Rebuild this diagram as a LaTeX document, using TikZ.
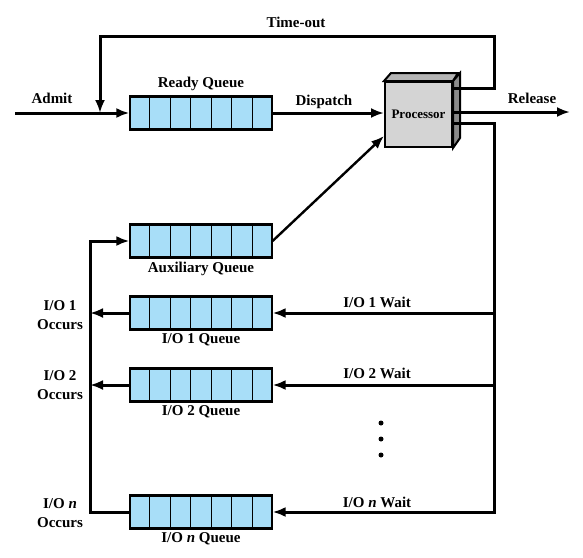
\documentclass[tikz,border=0pt]{standalone}
\usepackage{fontspec}
\setmainfont{Liberation Serif}
\usetikzlibrary{arrows.meta,positioning,calc}

\definecolor{qblue}{RGB}{168,222,248}
\definecolor{pfront}{RGB}{212,212,212}
\definecolor{ptop}{RGB}{180,180,180}
\definecolor{pside}{RGB}{138,138,138}

\begin{document}
\begin{tikzpicture}[x=1pt,y=-1pt,
  queue/.style={rectangle,draw,fill=qblue,line width=1.2pt,minimum width=142pt,minimum height=32pt,inner sep=0pt},
  lbl/.style={font=\fontsize{15}{19}\selectfont\bfseries,inner sep=1pt},
  flow/.style={line width=3pt,-{Latex[length=13pt,width=10pt]}},
  wire/.style={line width=3pt}]
\useasboundingbox (0,0) rectangle (583,557);

% queues
\node[queue] (rq) at (201,113) {};
\node[queue] (aq) at (201,241) {};
\node[queue] (q1) at (201,313) {};
\node[queue] (q2) at (201,385) {};
\node[queue] (qn) at (201,512) {};
\foreach \q in {rq,aq,q1,q2,qn}{
  \foreach \i in {1,...,6}
    \draw[line width=1.1pt] ($(\q.north west)!\i/7!(\q.north east)$) -- ($(\q.south west)!\i/7!(\q.south east)$);
  \draw[line width=3.4pt] (\q.north west) -- (\q.north east) (\q.south west) -- (\q.south east);
}

% processor
\node[draw,fill=pfront,line width=2pt,minimum width=67pt,minimum height=65pt,inner sep=0pt,
  font=\fontsize{13}{14}\selectfont\bfseries] (proc) at (418.5,114.5) {Processor};
\draw[line width=2pt,fill=ptop] (proc.north west) -- ++(7,-8) -- ++(67,0) -- (proc.north east) -- cycle;
\draw[line width=2pt,fill=pside] (proc.north east) -- ++(7,-8) -- ++(0,65) -- (proc.south east) -- cycle;

\coordinate (adm) at (15,113);
\coordinate (rel) at (570,112);
\coordinate (tr) at (494,36);
\coordinate (tl) at (100,36);
\coordinate (rb) at (494,512);
\coordinate (lb) at (90,512);

% connectors
\draw[flow] (adm) -- (rq.west);
\draw[flow] (rq.east) -- (rq.east -| proc.west);
\draw[flow] ([yshift=26pt]proc.east) -| (tr) -| (tl |- rq.west);
\draw[flow] (proc.east |- rel) -- (rel);
\draw[flow] ([yshift=-8.5pt]proc.east) -| (rb) -- (qn.east);
\draw[flow] (rb |- q1.east) -- (q1.east);
\draw[flow] (rb |- q2.east) -- (q2.east);
\draw[line width=2.4pt,-{Latex[length=13pt,width=10pt]}] (aq.east) -- ([yshift=12pt]proc.south west);
\draw[flow] (qn.west) -- (lb) |- (aq.west);
\draw[flow] (q1.west) -- (q1.west -| lb);
\draw[flow] (q2.west) -- (q2.west -| lb);

% labels
\node[lbl] (tolbl) at (296,22) {Time-out};
\node[lbl] (admlbl) at (52,98) {Admit};
\node[lbl] (displbl) at (324,102) {Dispatch};
\node[lbl] (rellbl) at (532,98) {Release};
\node[lbl,above=4pt of rq] (rqlbl) {Ready Queue};
\node[lbl,below=3pt of aq] (aqlbl) {Auxiliary Queue};
\node[lbl,below=3pt of q1] (q1lbl) {I/O 1 Queue};
\node[lbl,below=3pt of q2] (q2lbl) {I/O 2 Queue};
\node[lbl,below=3pt of qn] (qnlbl) {I/O \textit{n} Queue};
\node[lbl] (w1) at (377,302) {I/O 1 Wait};
\node[lbl] (w2) at (377,373) {I/O 2 Wait};
\node[lbl] (wn) at (377,502) {I/O \textit{n} Wait};
\node[lbl,align=center] (o1) at (60,315) {I/O 1\\Occurs};
\node[lbl,align=center] (o2) at (60,385) {I/O 2\\Occurs};
\node[lbl,align=center] (on) at (60,513) {I/O \textit{n}\\Occurs};

\foreach \y in {423,439,455}
  \fill (381,\y) circle (2.5pt);
\end{tikzpicture}
\end{document}
